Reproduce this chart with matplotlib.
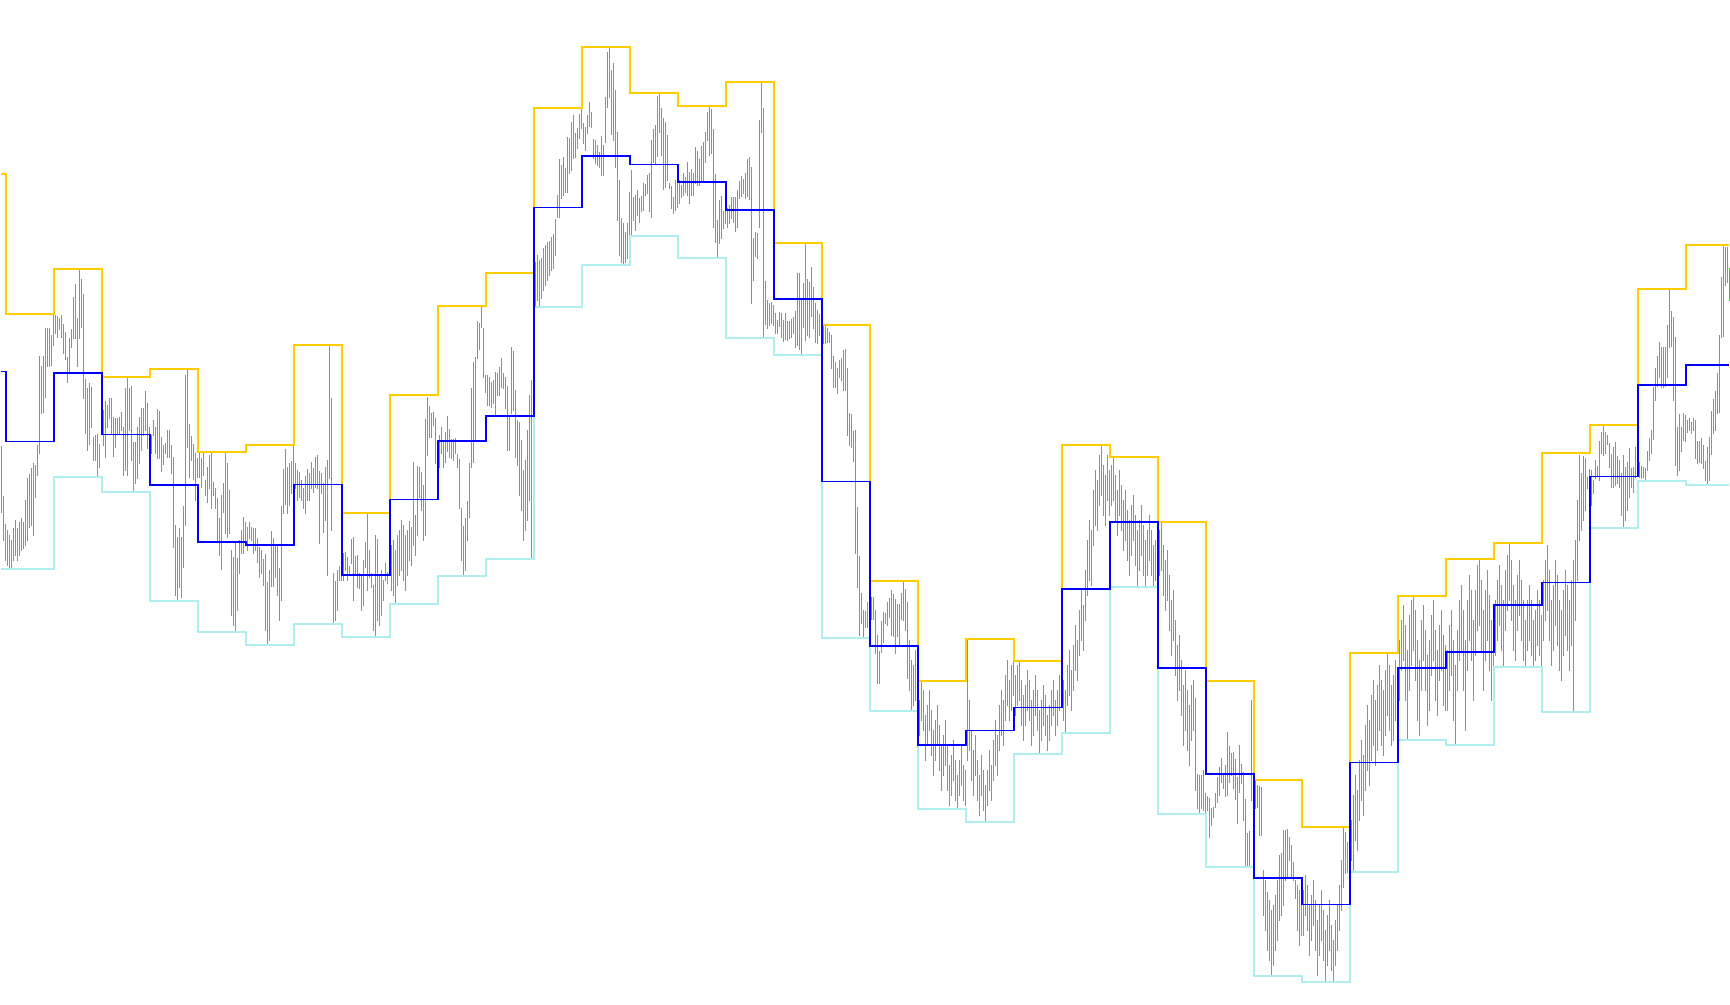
import numpy as np
import matplotlib
matplotlib.use('Agg')
import matplotlib.pyplot as plt

# prices are stored as points below REF_PRICE
REF_PRICE = 1.3000
POINT = 0.0001

FIRST_PERIOD_BARS = 3
PERIOD_BARS = 24

GREEN = '#20DD20'
GOLD = '#FFCC00'
AQUA = '#AEEEEE'
BLUE = '#0000FF'

'''Канал по периодам (верх / низ)'''

UPPER_PTS = [174, 314, 269, 377, 369, 452, 445, 345, 513, 395, 306, 273, 108, 47, 93, 106, 82, 243, 325,
             581, 681, 639, 661, 445, 457, 522, 681, 780, 827, 653, 596, 559, 543, 453, 425, 289, 245]
LOWER_PTS = [569, 569, 477, 492, 601, 632, 645, 624, 637, 604, 576, 559, 307, 265, 236, 258, 338, 355, 638,
             711, 809, 822, 754, 733, 587, 814, 867, 976, 982, 872, 740, 745, 667, 712, 528, 481, 485]

'''Бары, одна строка на период'''

HIGH_PTS = [
    [446, 496, 524],
    [530, 535, 540, 528, 520, 528, 522, 518, 522, 500, 478, 474, 468, 463, 465, 445, 356, 366, 356, 328, 328, 328, 335, 315],
    [315, 316, 318, 315, 324, 332, 357, 338, 329, 297, 284, 318, 270, 279, 294, 379, 388, 383, 387, 437, 435, 434, 444, 413],
    [410, 401, 405, 398, 398, 417, 418, 418, 417, 412, 427, 388, 377, 388, 386, 442, 442, 427, 417, 408, 408, 391, 403, 427],
    [435, 420, 427, 409, 411, 437, 445, 443, 430, 430, 445, 457, 525, 537, 528, 537, 506, 375, 369, 424, 436, 444, 453, 458],
    [452, 458, 453, 480, 467, 455, 453, 482, 488, 498, 518, 495, 483, 453, 463, 490, 550, 557, 542, 558, 540, 530, 517, 522],
    [527, 522, 527, 528, 528, 538, 547, 550, 559, 554, 582, 570, 531, 538, 546, 546, 568, 506, 469, 449, 467, 463, 461, 445],
    [463, 470, 472, 480, 488, 476, 469, 473, 462, 468, 457, 455, 471, 473, 483, 467, 460, 345, 398, 573, 581, 570, 566, 553],
    [553, 552, 557, 566, 539, 537, 556, 555, 573, 574, 560, 542, 513, 550, 573, 585, 535, 539, 575, 570, 580, 563, 572, 550],
    [545, 540, 550, 535, 530, 520, 525, 535, 530, 521, 527, 462, 515, 466, 467, 472, 485, 419, 397, 406, 413, 412, 418, 443],
    [435, 427, 440, 432, 416, 429, 439, 439, 438, 454, 459, 508, 526, 518, 501, 463, 388, 362, 357, 321, 323, 306, 328, 375],
    [375, 377, 382, 380, 372, 373, 367, 358, 373, 377, 386, 415, 347, 351, 390, 420, 422, 440, 470, 460, 430, 395, 380, 273],
    [262, 255, 260, 258, 248, 245, 242, 241, 237, 234, 219, 195, 159, 165, 157, 168, 137, 138, 122, 115, 133, 128, 114, 108],
    [123, 127, 115, 102, 112, 139, 140, 145, 152, 136, 145, 97, 52, 47, 70, 63, 90, 132, 180, 218, 223, 232, 223, 192],
    [170, 197, 195, 190, 198, 196, 183, 184, 175, 173, 140, 129, 125, 96, 93, 108, 118, 122, 135, 183, 186, 197, 180, 175],
    [180, 185, 173, 177, 162, 172, 169, 173, 147, 151, 159, 146, 142, 132, 112, 106, 109, 129, 174, 220, 200, 196, 211, 202],
    [208, 205, 197, 197, 197, 190, 181, 176, 179, 173, 159, 157, 167, 238, 232, 233, 120, 82, 108, 281, 300, 303, 302, 305],
    [313, 320, 312, 313, 320, 313, 321, 321, 319, 317, 311, 273, 273, 298, 283, 243, 279, 282, 267, 287, 303, 310, 314, 330],
    [325, 326, 328, 332, 335, 356, 362, 368, 360, 358, 350, 349, 368, 413, 414, 431, 430, 507, 556, 593, 610, 611, 602, 598],
    [597, 597, 610, 635, 651, 621, 612, 613, 602, 598, 590, 594, 599, 604, 604, 593, 581, 589, 602, 640, 660, 665, 650, 640],
    [700, 681, 690, 715, 705, 690, 710, 730, 720, 705, 725, 745, 735, 720, 745, 765, 755, 740, 760, 775, 760, 745, 765, 770],
    [639, 700, 730, 750, 735, 760, 775, 755, 770, 785, 770, 750, 765, 740, 720, 735, 705, 690, 700, 675, 660, 680, 665, 650],
    [675, 665, 661, 680, 695, 685, 670, 680, 700, 690, 675, 690, 710, 700, 685, 695, 715, 705, 690, 680, 700, 690, 675, 670],
    [680, 690, 665, 650, 670, 645, 625, 640, 610, 590, 605, 570, 540, 520, 530, 490, 470, 480, 455, 445, 465, 475, 455, 470],
    [465, 457, 475, 490, 470, 485, 500, 490, 510, 520, 505, 495, 515, 530, 520, 505, 525, 540, 530, 515, 530, 545, 540, 535],
    [530, 522, 545, 560, 550, 575, 600, 590, 620, 645, 635, 660, 685, 670, 690, 705, 685, 680, 698, 774, 775, 775, 770, 793],
    [796, 798, 808, 807, 793, 777, 767, 758, 773, 765, 732, 746, 753, 752, 759, 777, 745, 764, 772, 799, 833, 831, 700, 681],
    [781, 785, 786, 787, 870, 880, 892, 900, 910, 905, 895, 880, 855, 853, 830, 830, 829, 837, 845, 862, 880, 885, 890, 885],
    [890, 875, 885, 905, 895, 880, 900, 920, 905, 890, 910, 930, 915, 900, 925, 940, 920, 905, 885, 860, 827, 832, 842, 830],
    [820, 795, 775, 790, 760, 740, 755, 725, 705, 720, 695, 680, 700, 685, 665, 680, 690, 670, 653, 665, 685, 675, 660, 670],
    [640, 620, 605, 625, 650, 615, 600, 596, 610, 640, 660, 620, 605, 630, 655, 640, 615, 600, 630, 650, 625, 610, 635, 645],
    [650, 625, 610, 640, 665, 630, 600, 585, 610, 640, 600, 575, 590, 620, 590, 565, 559, 580, 610, 590, 570, 595, 620, 605],
    [600, 580, 565, 585, 600, 570, 555, 543, 560, 585, 600, 575, 560, 580, 600, 620, 600, 585, 600, 620, 610, 590, 600, 615],
    [580, 560, 545, 570, 600, 585, 560, 575, 600, 610, 590, 570, 585, 600, 580, 560, 540, 500, 455, 473, 456, 458, 477, 469],
    [470, 480, 460, 466, 441, 432, 426, 432, 435, 443, 454, 447, 442, 456, 460, 473, 455, 467, 462, 448, 468, 467, 447, 453],
    [462, 466, 467, 468, 451, 438, 430, 387, 368, 356, 342, 347, 347, 347, 325, 290, 311, 317, 337, 427, 414, 427, 413, 415],
    [420, 418, 422, 418, 420, 441, 441, 438, 445, 461, 447, 437, 411, 399, 391, 373, 335, 277, 245, 247, 247, 268],
]

LOW_PTS = [
    [512, 540, 560],
    [565, 569, 568, 560, 555, 560, 555, 550, 548, 545, 540, 527, 525, 535, 497, 475, 453, 413, 412, 397, 366, 366, 365, 345],
    [333, 337, 329, 337, 353, 359, 382, 373, 347, 338, 338, 366, 338, 327, 398, 433, 450, 444, 427, 460, 460, 477, 467, 420],
    [445, 457, 427, 418, 433, 456, 447, 433, 433, 430, 475, 470, 475, 430, 460, 492, 483, 478, 463, 450, 435, 430, 448, 448],
    [453, 435, 453, 458, 458, 471, 464, 453, 457, 457, 473, 547, 595, 601, 587, 597, 567, 525, 447, 477, 460, 479, 500, 477],
    [477, 487, 475, 495, 502, 488, 508, 495, 508, 540, 555, 569, 512, 533, 537, 533, 615, 625, 632, 610, 573, 553, 553, 543],
    [550, 538, 540, 553, 550, 562, 577, 573, 585, 630, 645, 640, 586, 586, 577, 595, 620, 600, 513, 504, 513, 505, 493, 490],
    [488, 500, 497, 500, 508, 513, 500, 500, 488, 492, 487, 488, 543, 493, 532, 520, 575, 478, 530, 624, 620, 610, 580, 580],
    [580, 570, 580, 573, 563, 600, 573, 587, 588, 610, 605, 567, 590, 577, 587, 630, 637, 620, 625, 615, 600, 580, 583, 567],
    [590, 595, 604, 585, 575, 570, 580, 590, 575, 560, 565, 545, 555, 535, 497, 510, 540, 535, 455, 437, 437, 425, 463, 467],
    [467, 453, 467, 462, 451, 457, 458, 460, 453, 467, 508, 560, 576, 570, 540, 517, 467, 462, 440, 358, 349, 327, 377, 392],
    [405, 405, 407, 403, 415, 395, 395, 387, 388, 408, 450, 450, 413, 410, 457, 465, 495, 510, 540, 530, 520, 500, 559, 520],
    [307, 300, 305, 298, 290, 285, 280, 275, 270, 268, 255, 217, 217, 198, 195, 192, 192, 173, 170, 158, 157, 148, 138, 128],
    [143, 150, 133, 126, 127, 158, 163, 165, 167, 175, 175, 142, 107, 97, 134, 140, 167, 220, 255, 262, 265, 262, 258, 255],
    [236, 220, 230, 215, 222, 211, 210, 195, 193, 211, 217, 162, 163, 156, 132, 155, 189, 187, 180, 188, 208, 213, 210, 207],
    [203, 197, 195, 192, 195, 203, 195, 195, 183, 185, 185, 180, 180, 162, 140, 155, 153, 227, 242, 258, 243, 238, 228, 223],
    [227, 223, 218, 222, 231, 227, 198, 196, 193, 198, 196, 199, 303, 280, 256, 258, 227, 132, 338, 324, 328, 325, 323, 325],
    [333, 333, 326, 337, 341, 339, 340, 338, 337, 333, 347, 345, 349, 355, 327, 340, 335, 337, 316, 328, 342, 343, 335, 345],
    [343, 343, 342, 342, 368, 387, 387, 393, 377, 380, 390, 390, 435, 445, 447, 461, 553, 587, 635, 623, 638, 627, 627, 618],
    [619, 619, 653, 683, 683, 652, 642, 623, 625, 617, 635, 636, 653, 636, 645, 619, 620, 630, 678, 690, 711, 705, 700, 690],
    [735, 720, 730, 760, 745, 730, 755, 775, 760, 745, 770, 790, 775, 765, 790, 805, 795, 780, 800, 809, 795, 785, 800, 805],
    [760, 750, 780, 795, 775, 800, 815, 795, 810, 822, 805, 790, 800, 780, 765, 775, 750, 735, 745, 720, 705, 720, 710, 695],
    [715, 705, 700, 725, 740, 725, 710, 720, 745, 735, 715, 730, 754, 740, 725, 735, 750, 740, 725, 715, 735, 725, 710, 705],
    [720, 733, 705, 695, 710, 690, 670, 680, 655, 640, 650, 620, 595, 580, 585, 545, 525, 530, 505, 495, 515, 525, 500, 515],
    [505, 500, 520, 535, 515, 530, 550, 540, 560, 575, 555, 540, 565, 587, 570, 555, 575, 585, 575, 560, 575, 587, 580, 575],
    [575, 570, 595, 610, 600, 630, 655, 640, 675, 700, 690, 715, 745, 730, 750, 765, 740, 730, 790, 808, 812, 808, 810, 814],
    [810, 837, 825, 817, 807, 802, 795, 782, 788, 796, 795, 782, 775, 788, 799, 823, 792, 783, 820, 867, 867, 867, 800, 777],
    [808, 807, 835, 835, 915, 930, 950, 960, 976, 965, 950, 940, 920, 915, 905, 880, 877, 860, 878, 880, 898, 930, 945, 935],
    [935, 915, 930, 955, 940, 925, 950, 975, 955, 940, 960, 980, 965, 950, 970, 982, 965, 950, 930, 910, 887, 873, 872, 880],
    [860, 872, 840, 850, 820, 800, 815, 790, 770, 785, 760, 745, 765, 750, 730, 745, 755, 735, 715, 730, 745, 740, 720, 730],
    [700, 670, 660, 700, 740, 690, 665, 650, 680, 720, 735, 690, 660, 690, 725, 710, 675, 660, 700, 715, 680, 670, 705, 710],
    [710, 690, 675, 720, 745, 690, 660, 650, 690, 730, 670, 640, 660, 700, 655, 630, 625, 650, 690, 660, 640, 670, 700, 680],
    [655, 640, 625, 650, 667, 630, 610, 600, 620, 650, 660, 630, 615, 640, 660, 667, 650, 640, 655, 667, 660, 645, 655, 665],
    [640, 620, 610, 640, 665, 650, 625, 645, 670, 680, 655, 635, 650, 670, 645, 712, 620, 580, 540, 530, 520, 510, 488, 493],
    [505, 493, 478, 476, 480, 453, 455, 453, 444, 467, 487, 487, 485, 483, 487, 515, 528, 520, 510, 497, 487, 492, 477, 470],
    [477, 478, 477, 481, 470, 460, 453, 439, 400, 386, 377, 387, 387, 386, 377, 347, 346, 400, 465, 475, 470, 451, 440, 441],
    [432, 430, 433, 430, 458, 463, 462, 463, 468, 480, 485, 480, 454, 433, 430, 413, 412, 337, 336, 285, 282, 300],
]

FIGURE_SIZE = (17.3, 10.05)
CHART_DEPTH_PTS = 1005
LINE_PX = 0.72


def to_price(pts):
    return REF_PRICE - np.asarray(pts, dtype=float) * POINT


'''Номер периода для каждого бара'''


def bar_periods(n_bars):
    idx = np.arange(n_bars)
    return np.where(idx < FIRST_PERIOD_BARS, 0, (idx - FIRST_PERIOD_BARS) // PERIOD_BARS + 1)


def main():
    highs = to_price([v for row in HIGH_PTS for v in row])
    lows = to_price([v for row in LOW_PTS for v in row])
    n_bars = len(highs)
    x = np.arange(n_bars)

    periods = bar_periods(n_bars)
    upper = to_price(UPPER_PTS)[periods]
    lower = to_price(LOWER_PTS)[periods]
    middle = (upper + lower) / 2

    fig = plt.figure(figsize=FIGURE_SIZE, dpi=100)
    ax = fig.add_axes([0, 0, 1, 1])

    ax.vlines(x, lows, highs, colors=GREEN, linewidth=LINE_PX, antialiased=False, zorder=1)
    ax.step(x, lower, where='mid', color=AQUA, linewidth=LINE_PX, antialiased=False, zorder=2)
    ax.step(x, upper, where='mid', color=GOLD, linewidth=LINE_PX, antialiased=False, zorder=2)
    ax.step(x, middle, where='mid', color=BLUE, linewidth=LINE_PX, antialiased=False, zorder=3)

    ax.set_xlim(-0.75, n_bars - 0.25)
    ax.set_ylim(REF_PRICE - CHART_DEPTH_PTS * POINT, REF_PRICE)
    ax.axis('off')

    fig.savefig('out.png', dpi=100, facecolor='white')


if __name__ == '__main__':
    main()
